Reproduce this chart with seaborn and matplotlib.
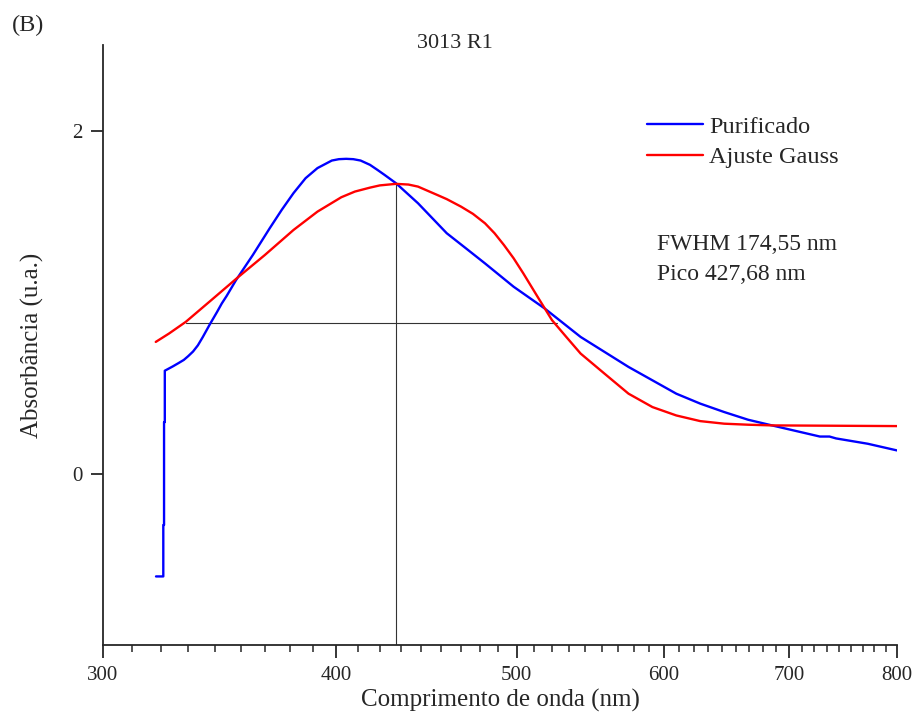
import numpy as np
import pandas as pd
import matplotlib
matplotlib.use("Agg")
import matplotlib.pyplot as plt
import matplotlib.ticker as mticker
import seaborn as sns

# ---- data ----
blue_x = [320.3, 323.2, 323.2, 323.5, 323.5, 323.8, 323.8, 327.0, 329.4, 331.5, 333.3,
          335.3, 337.3, 339.3, 342.3, 345.4, 347.4, 349.5, 353.6, 361.0, 368.6, 374.1,
          379.6, 385.3, 391.0, 398.0, 401.5, 405.1, 408.7, 412.4, 417.2, 421.0, 424.7,
          430.8, 442.7, 458.7, 469.7, 480.9, 498.2, 517.7, 541.2, 574.2, 609.1, 627.4,
          646.2, 665.6, 685.5, 727.3, 736.0, 742.0, 771.6, 800.0]
blue_y = [-0.60, -0.60, -0.30, -0.30, 0.30, 0.30, 0.60, 0.625, 0.645, 0.663, 0.685,
          0.712, 0.748, 0.795, 0.870, 0.943, 0.992, 1.036, 1.129, 1.275, 1.431, 1.538,
          1.636, 1.723, 1.782, 1.826, 1.834, 1.836, 1.834, 1.826, 1.801, 1.772, 1.743,
          1.694, 1.577, 1.402, 1.314, 1.226, 1.090, 0.963, 0.797, 0.622, 0.466, 0.408,
          0.359, 0.314, 0.281, 0.216, 0.216, 0.205, 0.174, 0.135]

red_x = [320.2, 325.5, 332.3, 343.3, 354.7, 366.4, 379.6, 391.0, 402.7, 409.5, 417.2,
         422.3, 430.8, 437.5, 442.7, 453.2, 458.7, 466.9, 473.8, 480.9, 486.6, 492.3,
         498.2, 504.2, 513.2, 522.4, 531.7, 541.2, 557.4, 574.2, 591.4, 609.1, 627.4,
         646.2, 665.6, 685.5, 800.0]
red_y = [0.768, 0.817, 0.885, 1.016, 1.148, 1.275, 1.421, 1.528, 1.612, 1.645, 1.668,
         1.681, 1.690, 1.686, 1.674, 1.626, 1.601, 1.557, 1.515, 1.460, 1.402, 1.333,
         1.256, 1.168, 1.031, 0.895, 0.797, 0.700, 0.583, 0.466, 0.388, 0.339, 0.306,
         0.291, 0.285, 0.281, 0.277]

series_names = ["Purificado", "Ajuste Gauss"]
series_colors = ["#0000FF", "#FF0000"]

fwhm_x = [332.3, 525.5]
half_y = 0.877
peak_x = 430.8
peak_y = 1.690

x_major = [300, 400, 500, 600, 700, 800]
y_major = [0, 2]

df = pd.concat([
    pd.DataFrame({"x": blue_x, "y": blue_y, "serie": series_names[0]}),
    pd.DataFrame({"x": red_x, "y": red_y, "serie": series_names[1]}),
])

sns.set_style("ticks")
plt.rcParams["font.family"] = ["Liberation Serif", "DejaVu Serif"]

fig = plt.figure(figsize=(9.14, 7.28), dpi=100)
ax = fig.add_axes([103/914, 1-645/728, 794/914, 600/728])

sns.lineplot(data=df, x="x", y="y", hue="serie", palette=series_colors,
             estimator=None, sort=False, lw=1.7, ax=ax)

# FWHM / peak guide lines
ax.plot(fwhm_x, [half_y, half_y], color="#333333", lw=0.8, zorder=1)
ax.plot([peak_x, peak_x], [-1, peak_y], color="#333333", lw=0.8, zorder=1)

ax.set_xscale("log")
ax.set_xlim(300, 800)
ax.set_ylim(-1, 2.5)
ax.xaxis.set_major_locator(mticker.FixedLocator(x_major))
ax.xaxis.set_major_formatter(mticker.FixedFormatter([str(v) for v in x_major]))
minors = [300 + k*100/9 for k in range(1, 45) if k % 9 != 0]
ax.xaxis.set_minor_locator(mticker.FixedLocator(minors))
ax.xaxis.set_minor_formatter(mticker.NullFormatter())
ax.set_yticks(y_major)
ax.set_yticklabels([str(v) for v in y_major])
ax.yaxis.set_minor_locator(mticker.NullLocator())

for s in ["top", "right"]:
    ax.spines[s].set_visible(False)
for s in ["left", "bottom"]:
    ax.spines[s].set_linewidth(1.3)
ax.tick_params(axis="both", which="major", direction="out", length=9, width=1.3,
               labelsize=15, pad=6)
ax.tick_params(axis="x", which="minor", direction="out", length=5, width=1.1)

ax.set_xlabel("Comprimento de onda (nm)", fontsize=18, labelpad=3)
ax.set_ylabel("Absorbância (u.a.)", fontsize=18, labelpad=20)

leg = ax.legend(loc="upper left", bbox_to_anchor=(0.673, 0.898), frameon=False,
                fontsize=17.5, handlelength=2.3, handletextpad=0.25, labelspacing=0.35,
                borderaxespad=0)
for line in leg.get_lines():
    line.set_linewidth(1.7)

fig.text(657/914, 1-245/728, "FWHM 174,55 nm", fontsize=17, va="center", ha="left")
fig.text(657/914, 1-275/728, "Pico 427,68 nm", fontsize=17, va="center", ha="left")
fig.text(455/914, 1-43/728, "3013 R1", fontsize=16, va="center", ha="center")
fig.text(12/914, 1-25/728, "(B)", fontsize=17.5, va="center", ha="left")

fig.savefig("out.png", dpi=100)
